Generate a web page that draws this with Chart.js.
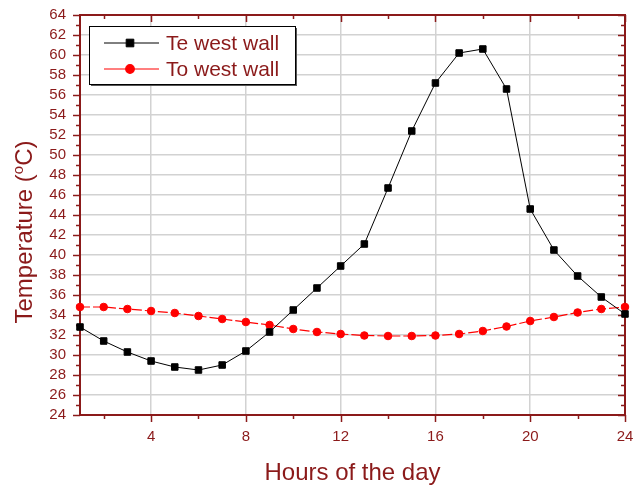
<!DOCTYPE html>
<html>
<head>
<meta charset="utf-8">
<script src="https://cdn.jsdelivr.net/npm/chart.js@4.4.1/dist/chart.umd.min.js"></script>
<style>
  html, body { margin: 0; padding: 0; background: #fff; }
  #wrap { width: 642px; height: 485px; }
</style>
</head>
<body>
<div id="wrap"><canvas id="grafico" width="642" height="485"></canvas></div>
<script>
// dados
const horas = [1, 2, 3, 4, 5, 6, 7, 8, 9, 10, 11, 12, 13, 14, 15, 16, 17, 18, 19, 20, 21, 22, 23, 24];
const teParedeOeste = [32.8, 31.4, 30.3, 29.4, 28.8, 28.5, 29.0, 30.4, 32.3, 34.5, 36.7, 38.9,
                       41.1, 46.7, 52.4, 57.2, 60.2, 60.6, 56.6, 44.6, 40.5, 37.9, 35.8, 34.1];
const toParedeOeste = [34.8, 34.8, 34.6, 34.4, 34.2, 33.9, 33.6, 33.3, 33.0, 32.6, 32.3, 32.1,
                       31.95, 31.9, 31.9, 31.95, 32.1, 32.4, 32.85, 33.4, 33.8, 34.25, 34.6, 34.8];
const rotulos = ['Te west wall', 'To west wall'];
const ticksXPrincipais = [4, 8, 12, 16, 20, 24];
const ticksXSecundarios = [2, 6, 10, 14, 18, 22];
const ticksYPrincipais = [24, 26, 28, 30, 32, 34, 36, 38, 40, 42, 44, 46, 48, 50, 52, 54, 56, 58, 60, 62, 64];
const ticksYSecundarios = [25, 27, 29, 31, 33, 35, 37, 39, 41, 43, 45, 47, 49, 51, 53, 55, 57, 59, 61, 63];
const tituloX = 'Hours of the day';
const tituloY = ['Temperature (', 'o', 'C)'];   // "o" sobrescrito

const corEixo = '#8b1a1a';
const corGrade = '#d2d2d2';
const fonte = 'Arial, "Liberation Sans", sans-serif';

/**
 * Moldura com ticks nos quatro lados (estilo Origin)
 */
const molduraPlugin = {
    id: 'moldura',
    beforeDatasetsDraw(chart) {
        const { ctx, chartArea: { left, right, top, bottom }, scales: { x, y } } = chart;
        ctx.save();
        ctx.strokeStyle = corEixo;
        ctx.lineWidth = 2;
        ctx.strokeRect(left, top, right - left, bottom - top);

        const linha = (x1, y1, x2, y2) => {
            ctx.beginPath();
            ctx.moveTo(x1, y1);
            ctx.lineTo(x2, y2);
            ctx.stroke();
        };

        ctx.lineWidth = 1.5;
        ticksXPrincipais.concat(ticksXSecundarios).forEach(v => {
            const px = Math.round(x.getPixelForValue(v)) + 0.5;
            const tam = ticksXPrincipais.includes(v) ? 7 : 4;
            linha(px, bottom, px, bottom + tam);
            linha(px, top, px, top + tam);
        });
        ticksYPrincipais.concat(ticksYSecundarios).forEach(v => {
            const py = Math.round(y.getPixelForValue(v)) + 0.5;
            const tam = ticksYPrincipais.includes(v) ? 7 : 4;
            linha(left - tam, py, left, py);
            linha(right - tam, py, right, py);
        });
        ctx.restore();
    }
};

/**
 * Títulos dos eixos (com o "o" sobrescrito no eixo Y)
 */
const titulosPlugin = {
    id: 'titulos',
    afterDraw(chart) {
        const { ctx, chartArea } = chart;
        ctx.save();
        ctx.fillStyle = corEixo;
        ctx.textBaseline = 'alphabetic';

        // eixo X
        ctx.font = '24px ' + fonte;
        ctx.textAlign = 'center';
        ctx.fillText(tituloX, (chartArea.left + chartArea.right) / 2, 480);

        // eixo Y
        const fonteGrande = '24px ' + fonte;
        const fontePequena = '15px ' + fonte;
        ctx.font = fonteGrande;
        const w0 = ctx.measureText(tituloY[0]).width;
        const w2 = ctx.measureText(tituloY[2]).width;
        ctx.font = fontePequena;
        const w1 = ctx.measureText(tituloY[1]).width;
        const total = w0 + w1 + w2;

        ctx.translate(32, 232);
        ctx.rotate(-Math.PI / 2);
        ctx.textAlign = 'left';
        let pos = -total / 2;
        ctx.font = fonteGrande;
        ctx.fillText(tituloY[0], pos, 0);
        pos += w0;
        ctx.font = fontePequena;
        ctx.fillText(tituloY[1], pos, -9);
        pos += w1;
        ctx.font = fonteGrande;
        ctx.fillText(tituloY[2], pos, 0);
        ctx.restore();
    }
};

/**
 * Legenda dentro da área do gráfico
 */
const legendaPlugin = {
    id: 'legendaInterna',
    afterDraw(chart) {
        const { ctx } = chart;
        const caixa = { x: 89, y: 26, w: 206, h: 58 };
        ctx.save();
        // sombra
        ctx.fillStyle = '#555';
        ctx.fillRect(caixa.x + 2, caixa.y + 2, caixa.w, caixa.h);
        ctx.fillStyle = '#fff';
        ctx.fillRect(caixa.x, caixa.y, caixa.w, caixa.h);
        ctx.strokeStyle = '#000';
        ctx.lineWidth = 1;
        ctx.strokeRect(caixa.x + 0.5, caixa.y + 0.5, caixa.w, caixa.h);

        chart.data.datasets.forEach((ds, i) => {
            const cy = caixa.y + 17 + i * 26;
            ctx.strokeStyle = ds.borderColor;
            ctx.lineWidth = ds.borderWidth;
            ctx.beginPath();
            ctx.moveTo(104, cy);
            ctx.lineTo(159, cy);
            ctx.stroke();

            ctx.fillStyle = ds.pointBackgroundColor;
            ctx.strokeStyle = ds.pointBorderColor;
            ctx.beginPath();
            if (ds.pointStyle === 'rect') {
                const s = (ds.pointRadius + 0.8) * Math.SQRT1_2;
                ctx.rect(130 - s, cy - s, 2 * s, 2 * s);
            } else {
                ctx.arc(130, cy, ds.pointRadius + 0.5, 0, Math.PI * 2);
            }
            ctx.fill();
            ctx.stroke();

            ctx.fillStyle = corEixo;
            ctx.font = '21px ' + fonte;
            ctx.textBaseline = 'middle';
            ctx.textAlign = 'left';
            ctx.fillText(ds.label, 166, cy + 1);
        });
        ctx.restore();
    }
};

function criarGrafico() {
    const ctx = document.getElementById('grafico').getContext('2d');

    return new Chart(ctx, {
        type: 'line',
        data: {
            labels: horas,
            datasets: [
                {
                    label: rotulos[0],
                    data: horas.map((h, i) => ({ x: h, y: teParedeOeste[i] })),
                    borderColor: '#000000',
                    borderWidth: 1,
                    pointStyle: 'rect',
                    pointRadius: 4.6,
                    pointBackgroundColor: '#000000',
                    pointBorderColor: '#000000',
                    pointBorderWidth: 1,
                    tension: 0,
                    clip: false
                },
                {
                    label: rotulos[1],
                    data: horas.map((h, i) => ({ x: h, y: toParedeOeste[i] })),
                    borderColor: '#ff0000',
                    borderWidth: 1.2,
                    borderDash: [10, 3],
                    pointStyle: 'circle',
                    pointRadius: 3.8,
                    pointBackgroundColor: '#ff0000',
                    pointBorderColor: '#ff0000',
                    pointBorderWidth: 1,
                    tension: 0,
                    clip: false
                }
            ]
        },
        options: {
            responsive: false,
            animation: false,
            layout: {
                padding: { top: 15, right: 17, left: 0, bottom: 0 }
            },
            plugins: {
                legend: { display: false },
                tooltip: { enabled: false }
            },
            scales: {
                x: {
                    type: 'linear',
                    min: 1,
                    max: 24,
                    afterBuildTicks: scale => {
                        scale.ticks = ticksXPrincipais.map(v => ({ value: v }));
                    },
                    afterFit: scale => {
                        scale.height = 70;
                        scale.paddingLeft = 0;
                        scale.paddingRight = 0;
                    },
                    ticks: {
                        color: corEixo,
                        font: { family: fonte, size: 15 },
                        padding: 13,
                        maxRotation: 0,
                        autoSkip: false
                    },
                    grid: {
                        color: corGrade,
                        lineWidth: 1.5,
                        drawTicks: false
                    },
                    border: { display: false },
                    title: { display: false }
                },
                y: {
                    min: 24,
                    max: 64,
                    afterBuildTicks: scale => {
                        scale.ticks = ticksYPrincipais.map(v => ({ value: v }));
                    },
                    afterFit: scale => {
                        scale.width = 80;
                        scale.paddingTop = 0;
                        scale.paddingBottom = 0;
                    },
                    ticks: {
                        color: corEixo,
                        font: { family: fonte, size: 15 },
                        padding: 14,
                        autoSkip: false
                    },
                    grid: {
                        color: corGrade,
                        lineWidth: 1.5,
                        drawTicks: false
                    },
                    border: { display: false },
                    title: { display: false }
                }
            }
        },
        plugins: [molduraPlugin, titulosPlugin, legendaPlugin]
    });
}

criarGrafico();
</script>
</body>
</html>
